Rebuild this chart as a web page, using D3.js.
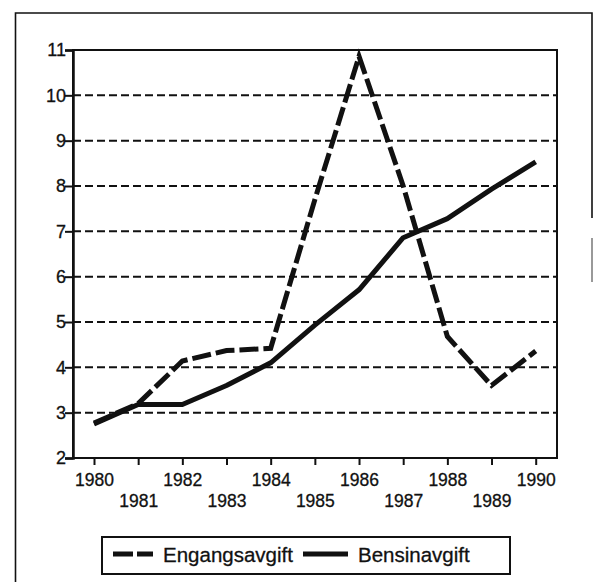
<!DOCTYPE html>
<html>
<head>
<meta charset="utf-8">
<script src="https://cdn.jsdelivr.net/npm/d3@7"></script>
<style>
  body { margin: 0; background: #fff; }
  svg { display: block; font-family: "Liberation Sans", Arial, sans-serif; }
</style>
</head>
<body>
<svg id="chart"></svg>
<script>
const width = 594
const height = 582

// Data
const years = [1980, 1981, 1982, 1983, 1984, 1985, 1986, 1987, 1988, 1989, 1990]
const engangsavgift = [2.77, 3.2, 4.14, 4.37, 4.42, 7.7, 10.86, 8.0, 4.68, 3.6, 4.36]
const bensinavgift = [2.75, 3.18, 3.18, 3.6, 4.1, 4.93, 5.71, 6.86, 7.28, 7.93, 8.53]
const yTicks = [2, 3, 4, 5, 6, 7, 8, 9, 10, 11]
const seriesNames = ["Engangsavgift", "Bensinavgift"]

// Layout
const plotLeft = 73
const plotRight = 557
const plotTop = 50
const plotBottom = 458

const ink = "#111"

const svg = d3.select("#chart")
    .attr("width", width)
    .attr("height", height)

const x = d3.scaleLinear().domain([1980, 1990]).range([94, 535.7])
const y = d3.scaleLinear().domain([2, 11]).range([plotBottom, plotTop])

// Outer frame (scanned page border)
svg.append("path")
    .attr("d", `M15.5,582 V13 H592 V218`)
    .attr("fill", "none")
    .attr("stroke", ink)
    .attr("stroke-width", 1.6)
svg.append("line")
    .attr("x1", 592).attr("x2", 592)
    .attr("y1", 238).attr("y2", 282)
    .attr("stroke", "#555")
    .attr("stroke-width", 1.2)

// Dashed gridlines
svg.append("g")
    .selectAll("line")
    .data(yTicks.filter(d => d > 2 && d < 11))
    .enter()
    .append("line")
    .attr("x1", plotLeft)
    .attr("x2", plotRight)
    .attr("y1", d => y(d))
    .attr("y2", d => y(d))
    .attr("stroke", ink)
    .attr("stroke-width", 2)
    .attr("stroke-dasharray", "8,4")

// Plot frame
svg.append("rect")
    .attr("x", plotLeft)
    .attr("y", plotTop)
    .attr("width", plotRight - plotLeft)
    .attr("height", plotBottom - plotTop)
    .attr("fill", "none")
    .attr("stroke", ink)
    .attr("stroke-width", 2)

// Y axis
const yAxis = svg.append("g")
    .attr("transform", `translate(${plotLeft},0)`)
    .call(d3.axisLeft(y).tickValues(yTicks).tickSize(8).tickPadding(0).tickFormat(d3.format("d")))
yAxis.select(".domain").attr("stroke", ink).attr("stroke-width", 2.5)
yAxis.selectAll(".tick line").attr("stroke", ink).attr("stroke-width", 2)
yAxis.selectAll(".tick text")
    .attr("fill", ink)
    .attr("font-size", 18)
    .attr("font-family", "'Liberation Sans', Arial, sans-serif")
    .attr("stroke", ink)
    .attr("stroke-width", 0.3)
    .attr("x", -7)

// X axis
const xAxis = svg.append("g")
    .attr("transform", `translate(0,${plotBottom})`)
    .call(d3.axisBottom(x).tickValues(years).tickSize(7).tickFormat(d3.format("d")))
xAxis.select(".domain").remove()
xAxis.selectAll(".tick line").attr("stroke", ink).attr("stroke-width", 2)
xAxis.selectAll(".tick text")
    .attr("fill", ink)
    .attr("font-size", 17.5)
    .attr("font-family", "'Liberation Sans', Arial, sans-serif")
    .attr("stroke", ink)
    .attr("stroke-width", 0.3)
    .attr("dy", null)
    .attr("y", (d, i) => i % 2 === 0 ? 28 : 49)

// Lines
const line = d3.line()
    .x((d, i) => x(years[i]))
    .y(d => y(d))

svg.append("path")
    .datum(bensinavgift)
    .attr("d", line)
    .attr("fill", "none")
    .attr("stroke", ink)
    .attr("stroke-width", 5)
    .attr("stroke-linejoin", "round")

svg.append("path")
    .datum(engangsavgift)
    .attr("d", line)
    .attr("fill", "none")
    .attr("stroke", ink)
    .attr("stroke-width", 5)
    .attr("stroke-dasharray", "19,5")
    .attr("stroke-linejoin", "miter")

// Legend
const legend = svg.append("g")
legend.append("rect")
    .attr("x", 102)
    .attr("y", 537)
    .attr("width", 408)
    .attr("height", 37)
    .attr("fill", "#fff")
    .attr("stroke", ink)
    .attr("stroke-width", 2)

const legendItems = [
    { name: seriesNames[0], x1: 113, x2: 153, tx: 163, dash: "20,4" },
    { name: seriesNames[1], x1: 303, x2: 348, tx: 358, dash: null }
]

legendItems.forEach(item => {
    legend.append("line")
        .attr("x1", item.x1)
        .attr("x2", item.x2)
        .attr("y1", 554)
        .attr("y2", 554)
        .attr("stroke", ink)
        .attr("stroke-width", 5)
        .attr("stroke-dasharray", item.dash)
    legend.append("text")
        .attr("x", item.tx)
        .attr("y", 562)
        .attr("font-size", 20.5)
        .attr("fill", ink)
        .attr("stroke", ink)
        .attr("stroke-width", 0.3)
        .text(item.name)
})
</script>
</body>
</html>
